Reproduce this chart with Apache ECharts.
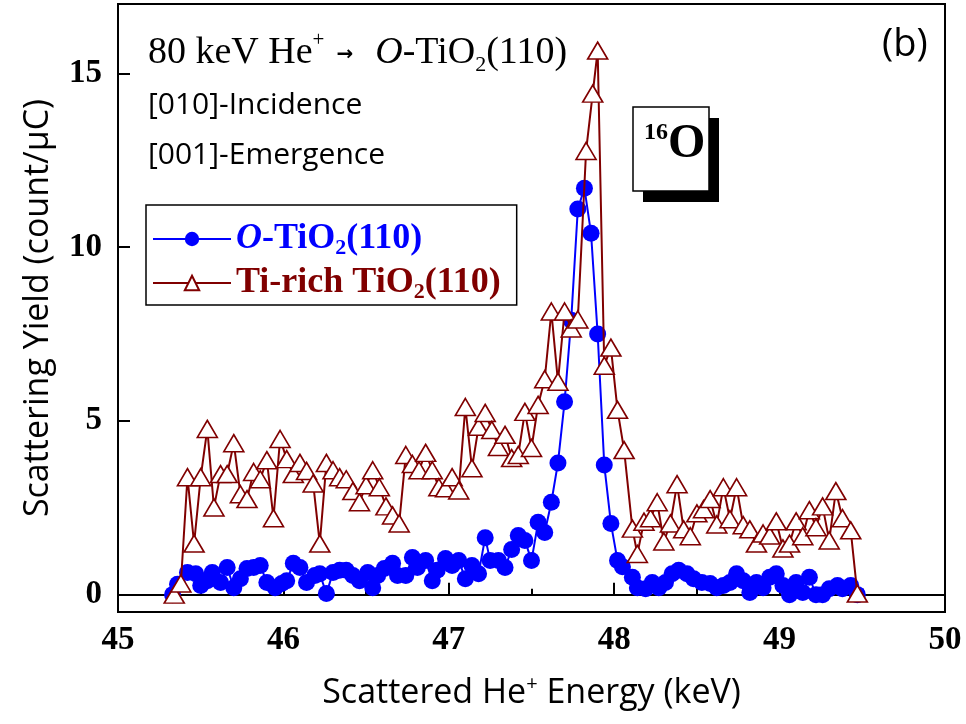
<!DOCTYPE html>
<html><head><meta charset="utf-8">
<script src="https://cdn.jsdelivr.net/npm/echarts@6/dist/echarts.min.js"></script>
<style>html,body{margin:0;padding:0;background:#fff}#c{width:966px;height:724px}</style>
</head><body><div id="c"></div>
<script>
const blueX=[45.33,45.36,45.42,45.47,45.50,45.54,45.57,45.62,45.66,45.70,45.74,45.78,45.82,45.86,45.90,45.95,45.99,46.02,46.06,46.10,46.14,46.19,46.22,46.26,46.30,46.34,46.38,46.42,46.46,46.51,46.54,46.57,46.61,46.66,46.69,46.74,46.78,46.81,46.86,46.90,46.93,46.98,47.02,47.06,47.10,47.14,47.18,47.22,47.25,47.30,47.34,47.38,47.42,47.46,47.50,47.54,47.58,47.62,47.66,47.70,47.74,47.78,47.82,47.86,47.90,47.94,47.98,48.02,48.05,48.11,48.14,48.19,48.23,48.27,48.31,48.35,48.39,48.44,48.48,48.53,48.58,48.62,48.66,48.70,48.74,48.78,48.82,48.86,48.90,48.94,48.98,49.02,49.06,49.10,49.14,49.18,49.22,49.26,49.30,49.35,49.38,49.43,49.47];
const blueY=[0.0,0.3,0.64,0.6,0.26,0.4,0.64,0.35,0.78,0.2,0.46,0.75,0.78,0.84,0.35,0.2,0.32,0.4,0.9,0.78,0.35,0.55,0.6,0.03,0.64,0.7,0.7,0.55,0.4,0.64,0.2,0.55,0.75,0.9,0.55,0.55,1.07,0.78,0.98,0.4,0.7,1.04,0.84,0.98,0.46,0.84,0.6,1.64,0.98,0.98,0.78,1.3,1.7,1.56,0.98,2.08,1.79,2.66,3.79,5.55,7.9,11.1,11.7,10.4,7.5,3.73,2.05,0.98,0.8,0.5,0.2,0.17,0.35,0.2,0.35,0.6,0.7,0.6,0.46,0.35,0.32,0.2,0.26,0.35,0.6,0.4,0.06,0.35,0.2,0.5,0.6,0.26,0.0,0.35,0.06,0.5,0.0,0.0,0.17,0.26,0.17,0.26,0.0];
const brownX=[45.34,45.38,45.42,45.46,45.50,45.54,45.58,45.62,45.66,45.70,45.74,45.78,45.82,45.86,45.90,45.94,45.98,46.02,46.06,46.10,46.14,46.18,46.22,46.26,46.30,46.34,46.38,46.42,46.46,46.50,46.54,46.58,46.62,46.66,46.70,46.74,46.78,46.82,46.86,46.90,46.94,46.98,47.02,47.06,47.10,47.14,47.18,47.22,47.26,47.30,47.34,47.38,47.42,47.46,47.50,47.54,47.58,47.62,47.66,47.70,47.74,47.78,47.83,47.87,47.90,47.94,47.98,48.02,48.06,48.11,48.14,48.18,48.22,48.26,48.30,48.34,48.38,48.42,48.46,48.50,48.54,48.58,48.62,48.66,48.70,48.74,48.78,48.82,48.86,48.90,48.94,48.98,49.02,49.06,49.10,49.14,49.18,49.22,49.26,49.30,49.34,49.38,49.43,49.47];
const brownY=[0.0,0.32,3.38,1.47,3.38,4.77,2.51,3.47,3.47,4.36,2.89,2.75,3.53,3.32,3.87,2.2,4.48,3.9,3.47,3.79,3.56,3.2,1.47,3.79,3.58,3.38,3.32,2.98,2.66,3.15,3.58,3.09,2.54,2.28,2.05,4.02,3.76,3.58,4.08,3.58,3.09,3.06,3.38,3.0,5.4,3.64,4.83,5.23,4.74,4.25,4.6,3.93,4.02,5.26,4.22,5.46,6.2,8.15,6.13,8.15,7.66,7.92,12.77,14.42,15.66,6.59,7.11,5.32,4.16,1.9,1.17,2.1,2.2,2.66,1.53,2.05,3.18,1.88,1.68,2.34,2.46,2.75,2.02,3.09,2.17,3.09,2.0,1.88,1.47,1.76,1.7,2.11,1.33,1.47,2.11,1.68,2.43,1.94,2.54,1.56,2.98,2.2,1.85,0.03];
const yTicks=[0,5,10,15];
const nameBlue='O-TiO2(110)';
const nameBrown='Ti-rich TiO2(110)';

const blueData=blueX.map((x,i)=>[x,blueY[i]]);
const brownData=brownX.map((x,i)=>[x,brownY[i]]);
const SERIF='"Liberation Serif","Times New Roman",serif';
const SANS='"Open Sans","Liberation Sans",sans-serif';

const chart=echarts.init(document.getElementById('c'),null,{renderer:'canvas'});
chart.setOption({
  animation:false,
  backgroundColor:'#fff',
  grid:{left:118,right:21,top:4,bottom:112,show:true,borderColor:'#000',borderWidth:2,backgroundColor:'transparent'},
  xAxis:{type:'value',min:45,max:50,interval:1,
    axisLine:{lineStyle:{color:'#000',width:2}},
    axisTick:{inside:true,length:12,lineStyle:{color:'#000',width:2}},
    minorTick:{show:true,splitNumber:2,length:6,lineStyle:{color:'#000',width:2}},
    splitLine:{show:false},
    axisLabel:{color:'#000',fontFamily:SERIF,fontWeight:'bold',fontSize:33,margin:12},
    name:'Scattered He{sup|+} Energy (keV)',nameLocation:'middle',nameGap:62,
    nameTextStyle:{color:'#000',fontFamily:SANS,fontSize:34,rich:{sup:{fontSize:20,fontFamily:SANS,verticalAlign:'top',padding:[0,0,18,0],color:'#000'}}}
  },
  yAxis:{type:'value',min:-0.5,max:17,
    axisLine:{lineStyle:{color:'#000',width:2}},
    axisTick:{inside:true,length:12,customValues:yTicks,lineStyle:{color:'#000',width:2}},
    splitLine:{show:false},
    axisLabel:{customValues:yTicks,color:'#000',fontFamily:SERIF,fontWeight:'bold',fontSize:33,margin:16},
    name:'Scattering Yield (count/\u03bcC)',nameLocation:'middle',nameGap:63,nameRotate:90,
    nameTextStyle:{color:'#000',fontFamily:SANS,fontSize:34}
  },
  legend:{orient:'vertical',left:146,top:205,borderColor:'#000',borderWidth:1.5,padding:[16,16,2,6],itemGap:6,
    itemWidth:78,itemHeight:18,
    data:[nameBlue,nameBrown],
    formatter:function(n){
      if(n===nameBlue) return '{bi|O}{b1|-TiO}{s1|2}{b1|(110)}';
      return '{b2|Ti-rich TiO}{s2|2}{b2|(110)}';
    },
    textStyle:{rich:{
      bi:{color:'#0000ff',fontFamily:SERIF,fontWeight:'bold',fontStyle:'italic',fontSize:36,lineHeight:40},
      b1:{color:'#0000ff',fontFamily:SERIF,fontWeight:'bold',fontSize:36,lineHeight:40},
      s1:{color:'#0000ff',fontFamily:SERIF,fontWeight:'bold',fontSize:22,lineHeight:40,verticalAlign:'bottom',padding:[14,0,0,0]},
      b2:{color:'#800000',fontFamily:SERIF,fontWeight:'bold',fontSize:36,lineHeight:40},
      s2:{color:'#800000',fontFamily:SERIF,fontWeight:'bold',fontSize:22,lineHeight:40,verticalAlign:'bottom',padding:[14,0,0,0]}
    }}
  },
  graphic:[
    {type:'text',left:148,top:30,style:{text:'{t|80 keV He}{sup|+}{ar|\u2192}{ti|O}{t|-TiO}{sub|2}{t|(110)}',
      rich:{t:{fontFamily:SERIF,fontSize:38,fill:'#000',lineHeight:46},
            ti:{fontFamily:SERIF,fontSize:38,fontStyle:'italic',fill:'#000',lineHeight:46},
            sup:{fontFamily:SERIF,fontSize:21,fill:'#000',lineHeight:46,verticalAlign:'top'},
            ar:{fontFamily:'"DejaVu Sans",sans-serif',fontWeight:'bold',fontSize:20,fill:'#000',lineHeight:46,padding:[4,22,0,12]},
            sub:{fontFamily:SERIF,fontSize:22,fill:'#000',lineHeight:46,verticalAlign:'bottom',padding:[14,0,0,0]}}}},
    {type:'text',left:148,top:90,style:{text:'[010]-Incidence',font:'30px '+SANS,fill:'#000'}},
    {type:'text',left:148,top:140,style:{text:'[001]-Emergence',font:'30px '+SANS,fill:'#000'}},
    {type:'text',left:882,top:26,style:{text:'(b)',font:'38px '+SANS,fill:'#000'}},
    {type:'rect',shape:{x:643,y:118,width:76,height:84},style:{fill:'#000'}},
    {type:'rect',shape:{x:633,y:107,width:76,height:84},style:{fill:'#fff',stroke:'#000',lineWidth:1.5}},
    {type:'text',left:644,top:121,style:{text:'{s|16}{o|O}',rich:{
      s:{fontFamily:SERIF,fontWeight:'bold',fontSize:24,fill:'#000',verticalAlign:'top',lineHeight:48},
      o:{fontFamily:SERIF,fontWeight:'bold',fontSize:48,fill:'#000',lineHeight:48}}}}
  ],
  series:[
    {name:nameBlue,type:'line',data:blueData,z:2,
      symbol:'circle',symbolSize:17,
      lineStyle:{color:'#0000ff',width:2},
      itemStyle:{color:'#0000ff',borderWidth:0}},
    {name:nameBrown,type:'line',data:brownData,z:3,
      symbol:'triangle',symbolSize:[20,17],
      lineStyle:{color:'#800000',width:2},
      itemStyle:{color:'#ffffff',borderColor:'#800000',borderWidth:1.6}}
  ]
});
</script></body></html>
